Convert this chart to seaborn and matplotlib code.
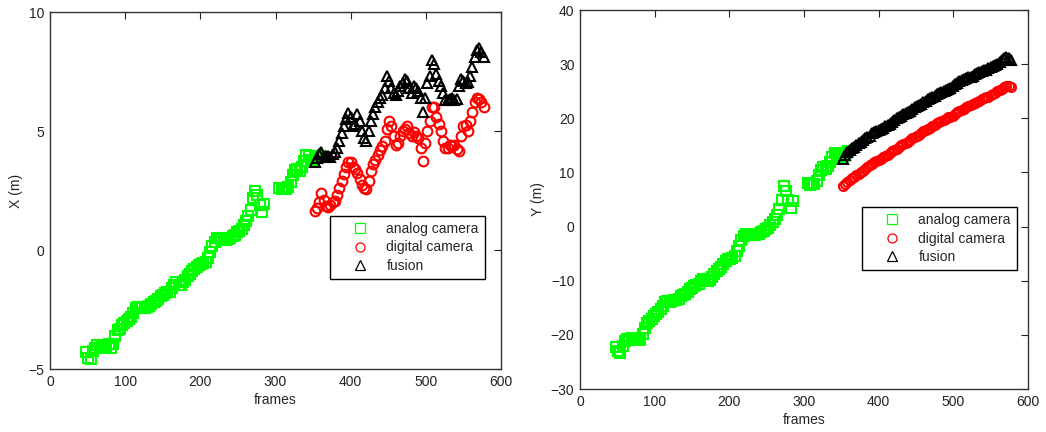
import matplotlib
matplotlib.use("Agg")
import matplotlib.pyplot as plt
import seaborn as sns

# ---- frame indices for each sensor track ----
analog_frames_a = [48, 51, 54, 57, 60, 63, 66, 69, 72, 75,
                   78, 81, 84, 87, 90, 93, 96, 99, 102, 105,
                   108, 111, 114, 117, 120, 123, 126, 129, 132, 135,
                   138, 141, 144, 147, 150, 153, 156, 159, 162, 165,
                   168, 171, 174, 177, 180, 183, 186, 189, 192, 195,
                   198, 201, 204, 207, 210, 213, 216, 219, 222, 225,
                   228, 231, 234, 237, 240, 243, 246, 249, 252, 255,
                   258, 261, 264, 267, 270, 273, 276, 279, 282, 285]
analog_frames_b = [305, 308, 311, 314, 317, 320, 323, 326, 329, 332,
                   335, 338, 341, 344, 347, 350, 353, 356, 359]
later_frames = [352, 355, 358, 361, 364, 367, 370, 373, 376, 379,
                382, 385, 388, 391, 394, 397, 400, 403, 406, 409,
                412, 415, 418, 421, 424, 427, 430, 433, 436, 439,
                442, 445, 448, 451, 454, 457, 460, 463, 466, 469,
                472, 475, 478, 481, 484, 487, 490, 493, 496, 499,
                502, 505, 508, 511, 514, 517, 520, 523, 526, 529,
                532, 535, 538, 541, 544, 547, 550, 553, 556, 559,
                562, 565, 568, 571, 574, 577]
analog_frames = analog_frames_a + analog_frames_b

# ---- X position (m) ----
x_analog = [-4.3, -4.55, -4.6, -4.25, -4.1, -4.0, -4.1, -4.05, -4.0, -4.05,
            -3.95, -4.1, -3.95, -3.6, -3.35, -3.3, -3.15, -3.05, -3.0, -2.9,
            -2.8, -2.65, -2.45, -2.4, -2.45, -2.4, -2.45, -2.4, -2.35, -2.25,
            -2.2, -2.15, -2.05, -1.95, -1.9, -1.8, -1.75, -1.75, -1.6, -1.45,
            -1.35, -1.45, -1.45, -1.35, -1.25, -1.1, -1.0, -0.9, -0.8, -0.7,
            -0.65, -0.6, -0.55, -0.5, -0.35, -0.1, 0.15, 0.35, 0.5, 0.5,
            0.45, 0.4, 0.4, 0.45, 0.5, 0.6, 0.65, 0.75, 0.8, 0.9,
            1.05, 1.2, 1.45, 1.7, 2.2, 2.5, 2.3, 1.9, 1.6, 1.95,
            2.6, 2.55, 2.6, 2.55, 2.65, 2.85, 3.15, 3.35, 3.4, 3.3,
            3.5, 3.75, 4.0, 3.95, 3.8, 3.75, 3.85, 3.9, 3.95]
x_digital = [1.65, 1.75, 2.0, 2.4, 2.1, 1.85, 1.8, 1.9, 2.0, 2.05,
             2.3, 2.6, 2.9, 3.2, 3.5, 3.7, 3.7, 3.5, 3.4, 3.25,
             3.0, 2.75, 2.6, 2.55, 2.9, 3.3, 3.6, 3.8, 4.0, 4.2,
             4.35, 4.6, 5.1, 5.4, 5.2, 4.8, 4.4, 4.5, 4.8, 5.0,
             5.1, 5.2, 4.9, 4.8, 4.95, 4.8, 4.7, 4.3, 3.75, 4.5,
             5.0, 5.4, 6.0, 6.0, 5.6, 5.3, 5.0, 4.6, 4.3, 4.3,
             4.4, 4.35, 4.4, 4.25, 4.15, 4.8, 5.2, 5.25, 5.0, 5.4,
             5.8, 6.2, 6.4, 6.35, 6.2, 6.0]
x_fusion = [3.7, 3.85, 4.05, 4.1, 3.9, 3.95, 3.95, 3.9, 4.05, 4.1,
            4.3, 4.6, 4.9, 5.2, 5.5, 5.75, 5.6, 5.2, 5.3, 5.7,
            5.4, 5.0, 4.7, 4.6, 5.0, 5.4, 5.7, 6.0, 6.2, 6.4,
            6.5, 6.8, 7.3, 7.1, 6.8, 6.6, 6.5, 6.7, 6.9, 7.0,
            7.2, 7.1, 6.8, 6.6, 6.9, 6.8, 6.7, 6.4, 5.8, 6.4,
            7.0, 7.3, 8.0, 7.8, 7.4, 7.1, 6.9, 6.6, 6.3, 6.3,
            6.35, 6.4, 6.3, 6.35, 6.9, 7.2, 7.1, 7.0, 7.05, 7.3,
            7.7, 8.1, 8.4, 8.5, 8.3, 8.1]

# ---- Y position (m) ----
y_analog = [-22.3, -23.0, -23.3, -22.0, -21.2, -20.8, -20.9, -20.6, -20.8, -20.6,
            -20.7, -20.9, -19.9, -18.7, -17.8, -17.4, -17.0, -16.6, -16.2, -15.7,
            -15.2, -14.6, -14.0, -13.8, -13.9, -13.8, -13.6, -13.5, -13.3, -12.9,
            -12.6, -12.4, -12.0, -11.6, -11.3, -11.0, -10.8, -10.6, -10.0, -9.6,
            -9.8, -10.0, -9.8, -9.3, -8.8, -8.2, -7.8, -7.4, -6.9, -6.3,
            -6.0, -6.0, -5.8, -5.5, -4.5, -3.5, -2.5, -1.7, -1.4, -1.5,
            -1.6, -1.5, -1.6, -1.4, -1.3, -1.0, -0.8, -0.5, -0.2, 0.3,
            0.8, 1.4, 2.2, 3.2, 5.0, 7.5, 6.5, 5.0, 3.5, 4.8,
            8.0, 7.7, 7.8, 7.9, 8.4, 9.5, 10.5, 11.0, 10.7, 11.2,
            12.0, 12.8, 13.5, 13.3, 12.8, 12.6, 13.0, 13.6, 14.0]
y_digital = [7.5, 7.9, 8.3, 8.6, 8.9, 9.1, 9.5, 9.8, 10.0, 10.3,
             10.7, 11.0, 11.4, 11.6, 11.9, 12.1, 12.3, 12.5, 12.8, 13.0,
             13.2, 13.5, 13.9, 14.2, 14.4, 14.7, 15.0, 15.3, 15.5, 15.7,
             16.0, 16.3, 16.6, 16.8, 17.0, 17.3, 17.6, 17.8, 18.0, 18.3,
             18.5, 18.8, 19.1, 19.3, 19.5, 19.7, 19.9, 20.2, 20.3, 20.5,
             20.8, 21.1, 21.3, 21.6, 21.8, 22.0, 22.2, 22.4, 22.6, 22.8,
             23.0, 23.2, 23.5, 23.7, 23.9, 24.0, 24.3, 24.5, 24.7, 25.0,
             25.2, 25.5, 25.8, 26.0, 26.0, 25.8]
y_fusion = [12.5, 13.3, 13.8, 14.2, 14.5, 14.7, 15.1, 15.4, 15.7, 16.0,
            16.3, 16.5, 16.8, 17.2, 17.4, 17.6, 17.9, 18.1, 18.3, 18.5,
            18.7, 19.0, 19.4, 19.7, 20.0, 20.3, 20.5, 20.8, 21.0, 21.2,
            21.4, 21.7, 22.0, 22.3, 22.5, 22.7, 23.0, 23.2, 23.5, 23.7,
            23.9, 24.2, 24.5, 24.6, 24.8, 25.0, 25.2, 25.4, 25.6, 26.0,
            26.3, 26.5, 26.9, 27.1, 27.3, 27.5, 27.6, 27.7, 27.9, 28.1,
            28.3, 28.5, 28.7, 28.9, 29.0, 29.2, 29.4, 29.6, 29.8, 30.1,
            30.4, 30.7, 31.1, 31.4, 31.1, 30.7]

labels = ["analog camera", "digital camera", "fusion"]
x_ticks = [0, 100, 200, 300, 400, 500, 600]

sns.set_theme(style="white")
plt.rcParams["font.family"] = ["Liberation Sans", "DejaVu Sans"]
plt.rcParams["font.size"] = 10

fig = plt.figure(figsize=(10.46, 4.32), dpi=100)
ax_x = fig.add_axes([0.0478, 0.1458, 0.4312, 0.8264])
ax_y = fig.add_axes([0.5545, 0.0995, 0.4283, 0.8773])

styles = [("s", "#00ff00"), ("o", "#ff0000"), ("^", "#000000")]


def draw_panel(ax, series, ylabel, ylim, yticks, legend_anchor, msize, mew):
    for (frames, vals), label, (mk, col) in zip(series, labels, styles):
        sns.lineplot(x=frames, y=vals, ax=ax, estimator=None, sort=False,
                     linestyle="", marker=mk, markersize=msize,
                     markerfacecolor="none", markeredgecolor=col,
                     markeredgewidth=mew, color=col, label=label)
    ax.set_xlim(0, 600)
    ax.set_ylim(*ylim)
    ax.set_xticks(x_ticks)
    ax.set_yticks(yticks)
    ax.set_xlabel("frames", fontsize=10, labelpad=3)
    ax.set_ylabel(ylabel, fontsize=10, labelpad=4)
    ax.tick_params(direction="in", top=True, right=True, length=5, width=0.8,
                   labelsize=10, colors="#222222", pad=4)
    for sp in ax.spines.values():
        sp.set_color("#333333")
        sp.set_linewidth(1.0)
    leg = ax.legend(loc="upper right", bbox_to_anchor=legend_anchor,
                    borderaxespad=0, fancybox=False, framealpha=1,
                    edgecolor="black", fontsize=10, handlelength=3.4,
                    handletextpad=0.2, labelspacing=0.3, borderpad=0.45)
    leg.get_frame().set_linewidth(1.0)
    for h in leg.legend_handles:
        h.set_markeredgewidth(0.9)
        h.set_markersize(6.5)


draw_panel(ax_x,
           [(analog_frames, x_analog), (later_frames, x_digital), (later_frames, x_fusion)],
           "X (m)", (-5, 10), [-5, 0, 5, 10], (0.9645, 0.4286), 7.0, 1.5)
draw_panel(ax_y,
           [(analog_frames, y_analog), (later_frames, y_digital), (later_frames, y_fusion)],
           "Y (m)", (-30, 40), [-30, -20, -10, 0, 10, 20, 30, 40], (0.9754, 0.480), 6.5, 1.5)

fig.savefig("out.png", dpi=100, facecolor="white")
